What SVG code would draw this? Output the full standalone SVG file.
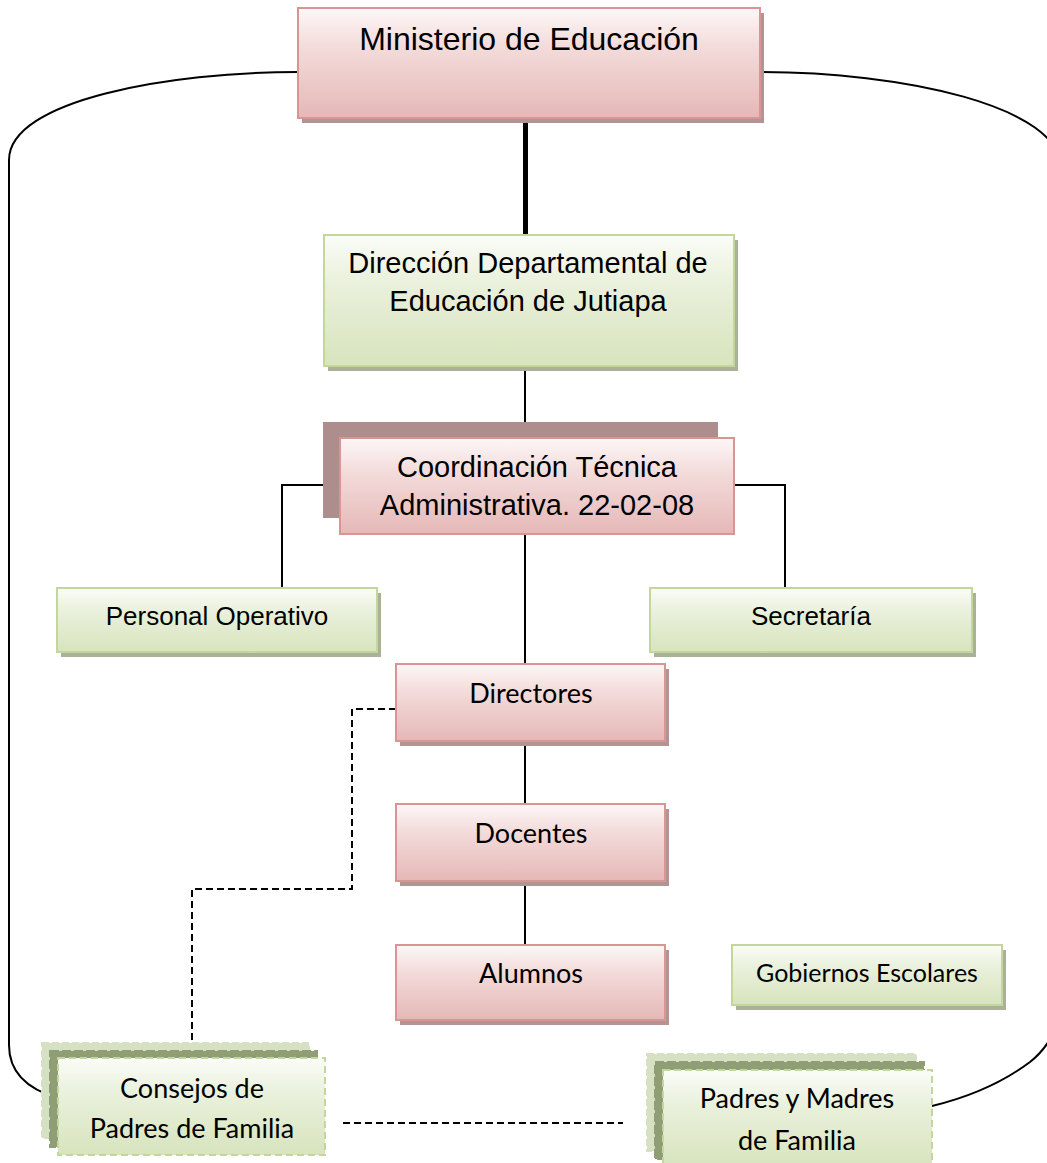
<svg xmlns="http://www.w3.org/2000/svg" width="1047" height="1163" viewBox="0 0 1047 1163">
<defs>
<linearGradient id="gPink" x1="0" y1="0" x2="0" y2="1">
<stop offset="0" stop-color="#fdf7f7"/><stop offset="0.35" stop-color="#f3dcdb"/><stop offset="1" stop-color="#e5b8b7"/>
</linearGradient>
<linearGradient id="gGreen" x1="0" y1="0" x2="0" y2="1">
<stop offset="0" stop-color="#fbfcf8"/><stop offset="0.35" stop-color="#eaf1dd"/><stop offset="1" stop-color="#d7e4bd"/>
</linearGradient>
<style>
.pink{fill:url(#gPink);stroke:#d99594;stroke-width:2}
.green{fill:url(#gGreen);stroke:#c3d69b;stroke-width:2}
.shp{fill:#b39494}
.shg{fill:#a9b199}
.gdash{fill:url(#gGreen);stroke:#c3d69b;stroke-width:2;stroke-dasharray:7 4}
.back1{fill:#d6e1c3;stroke:#d6e1c3;stroke-width:2;stroke-dasharray:7 3}
.back2{fill:#8f9e74;stroke:#8f9e74;stroke-width:2;stroke-dasharray:9 3}
.ta{font-family:"Liberation Sans",Arial,sans-serif;fill:#000;text-anchor:middle}
.tc{font-family:Lato,"Noto Sans",sans-serif;fill:#000;text-anchor:middle}
.ln{fill:none;stroke:#000;stroke-width:2}
.dash{fill:none;stroke:#000;stroke-width:2;stroke-dasharray:7 4}
</style>
</defs>

<g id="connectors">
<path class="ln" d="M298,72 C170,72 9,100 9,160 L9,1045 C9,1075 30,1090 58,1098"/>
<path class="ln" d="M760,72 C900,72 1062,105 1062,170 L1062,1000 Q1058,1040 1030,1062 Q990,1092 932,1106"/>
<line x1="525.5" y1="118" x2="525.5" y2="236" stroke="#000" stroke-width="5"/>
<line class="ln" x1="525" y1="366" x2="525" y2="438"/>
<polyline class="ln" points="340,485 282,485 282,588"/>
<polyline class="ln" points="734,485 785,485 785,588"/>
<line class="ln" x1="525" y1="534" x2="525" y2="664"/>
<line class="ln" x1="525" y1="741" x2="525" y2="804"/>
<line class="ln" x1="525" y1="881" x2="525" y2="945"/>
<polyline class="dash" points="396,709 352,709 352,889 192,889 192,1072"/>
<line class="dash" x1="343" y1="1123" x2="623" y2="1123"/>
</g>

<g id="ministerio">
<rect class="shp" x="302" y="13" width="462" height="110"/>
<rect class="pink" x="298" y="8" width="462" height="110"/>
<text class="ta" x="529" y="50" font-size="32">Ministerio de Educación</text>
</g>

<g id="direccion">
<rect class="shg" x="328" y="240" width="410" height="131"/>
<rect class="green" x="324" y="235" width="410" height="131"/>
<text class="ta" x="528" y="273" font-size="29">Dirección Departamental de</text>
<text class="ta" x="528" y="311" font-size="29">Educación de Jutiapa</text>
</g>

<g id="coordinacion">
<rect x="323" y="422" width="395" height="96" fill="#ae8e8d"/>
<rect class="pink" x="340" y="438" width="394" height="96"/>
<text class="ta" x="537" y="477" font-size="29">Coordinación Técnica</text>
<text class="ta" x="537" y="515" font-size="29">Administrativa. 22-02-08</text>
</g>

<g id="personal">
<rect class="shg" x="61" y="593" width="320" height="64"/>
<rect class="green" x="57" y="588" width="320" height="64"/>
<text class="ta" x="217" y="625" font-size="26">Personal Operativo</text>
</g>

<g id="secretaria">
<rect class="shg" x="654" y="593" width="322" height="64"/>
<rect class="green" x="650" y="588" width="322" height="64"/>
<text class="ta" x="811" y="625" font-size="26">Secretaría</text>
</g>

<g id="directores">
<rect class="shp" x="400" y="669" width="269" height="77"/>
<rect class="pink" x="396" y="664" width="269" height="77"/>
<text class="tc" x="531" y="703" font-size="27">Directores</text>
</g>

<g id="docentes">
<rect class="shp" x="400" y="809" width="269" height="77"/>
<rect class="pink" x="396" y="804" width="269" height="77"/>
<text class="tc" x="531" y="843" font-size="27">Docentes</text>
</g>

<g id="alumnos">
<rect class="shp" x="400" y="950" width="269" height="75"/>
<rect class="pink" x="396" y="945" width="269" height="75"/>
<text class="tc" x="531" y="983" font-size="27">Alumnos</text>
</g>

<g id="gobiernos">
<rect class="shg" x="736" y="950" width="270" height="60"/>
<rect class="green" x="732" y="945" width="270" height="60"/>
<text class="tc" x="867" y="982" font-size="25">Gobiernos Escolares</text>
</g>

<g id="consejos">
<rect class="back1" x="42" y="1043" width="267" height="95"/>
<rect class="back2" x="50" y="1051" width="267" height="96"/>
<rect class="gdash" x="58" y="1058" width="267" height="97"/>
<text class="tc" x="192" y="1098" font-size="27">Consejos de</text>
<text class="tc" x="192" y="1138" font-size="27">Padres de Familia</text>
</g>

<g id="padres">
<rect class="back1" x="647" y="1054" width="269" height="97"/>
<rect class="back2" x="655" y="1062" width="269" height="97"/>
<rect class="gdash" x="663" y="1070" width="269" height="97"/>
<text class="tc" x="797" y="1108" font-size="27">Padres y Madres</text>
<text class="tc" x="797" y="1150" font-size="27">de Familia</text>
</g>
</svg>
